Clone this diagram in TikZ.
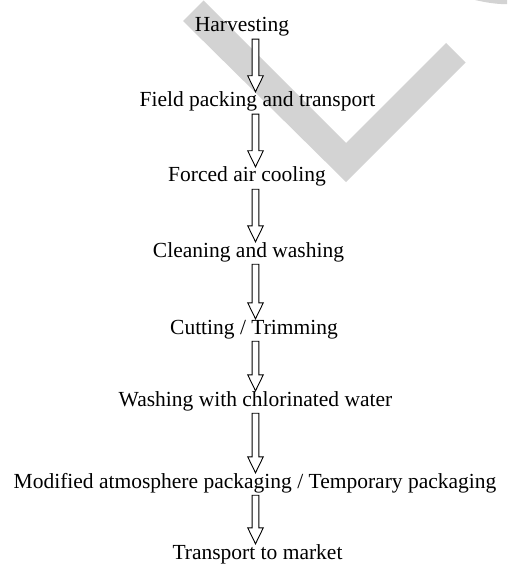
\documentclass[tikz,border=0pt]{standalone}
\usepackage{fontspec}
\setmainfont{Liberation Serif}
\usetikzlibrary{calc}
\definecolor{wmgrey}{RGB}{211,211,211}
\tikzset{
  stage/.style={anchor=base, inner sep=0pt, text height=15pt, text depth=7pt,
    font=\fontsize{21.5}{25}\selectfont},
  flowarr/.style={draw=black, line width=0.9pt, fill=white, line join=miter},
  watermark/.style={fill=wmgrey, draw=none}
}
\newcommand\flowarrow[2]{%
  \path (#1.south -| axis) coordinate (fa-s) (#2.north -| axis) coordinate (fa-t);
  \draw[flowarr] ($(fa-s)+(-3.4,0)$) -- ($(fa-t)+(-3.4,-16)$) -- ($(fa-t)+(-7.8,-16)$)
    -- (fa-t) -- ($(fa-t)+(7.8,-16)$) -- ($(fa-t)+(3.4,-16)$) -- ($(fa-s)+(3.4,0)$) -- cycle;}
\begin{document}
\begin{tikzpicture}[x=1pt,y=-1pt]
\useasboundingbox (0,0) rectangle (507,564);
\coordinate (axis) at (255.5,0);
% watermark
\fill[watermark] (183,21) -- (203.5,0.5) -- (346,143) -- (446,43) -- (465.5,62.5) -- (346,182) -- cycle;
\fill[watermark] (475,0) .. controls (488,3) and (498,4.2) .. (507,4.2) -- (507,0) -- cycle;
% stages
\node[stage] (s1) at (242,32) {Harvesting};
\node[stage] (s2) at (257.5,107) {Field packing and transport};
\node[stage] (s3) at (247,182) {Forced air cooling};
\node[stage] (s4) at (248.5,257) {Cleaning and washing};
\node[stage] (s5) at (254,334) {Cutting / Trimming};
\node[stage] (s6) at (255.5,406) {Washing with chlorinated water};
\node[stage] (s7) at (255,488) {Modified atmosphere packaging / Temporary packaging};
\node[stage] (s8) at (257.5,559) {Transport to market};
% arrows
\flowarrow{s1}{s2}
\flowarrow{s2}{s3}
\flowarrow{s3}{s4}
\flowarrow{s4}{s5}
\flowarrow{s5}{s6}
\flowarrow{s6}{s7}
\flowarrow{s7}{s8}
\end{tikzpicture}
\end{document}
